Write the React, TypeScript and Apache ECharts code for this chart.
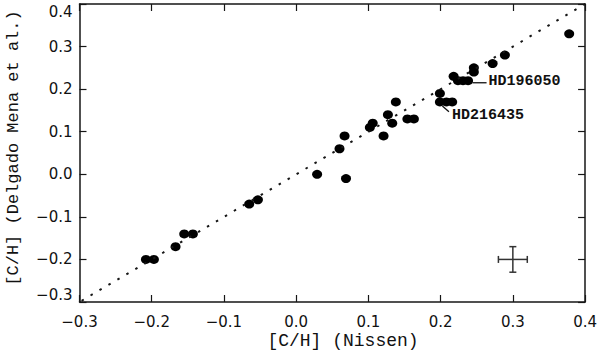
import React, { useEffect, useRef } from "react";
import * as echarts from "echarts";

// [C/H] (Nissen) and [C/H] (Delgado Mena et al.)
const nissenCH = [
  -0.208, -0.197, -0.167, -0.155, -0.143, -0.065, -0.053, 0.029, 0.069, 0.06,
  0.067, 0.102, 0.106, 0.121, 0.127, 0.133, 0.138, 0.154, 0.163, 0.199, 0.199,
  0.208, 0.216, 0.218, 0.224, 0.231, 0.238, 0.246, 0.246, 0.272, 0.289, 0.378,
];
const delgadoCH = [
  -0.2, -0.2, -0.17, -0.14, -0.14, -0.07, -0.06, 0.0, -0.01, 0.06, 0.09, 0.11,
  0.12, 0.09, 0.14, 0.12, 0.17, 0.13, 0.13, 0.19, 0.17, 0.17, 0.17, 0.23, 0.22,
  0.22, 0.22, 0.25, 0.24, 0.26, 0.28, 0.33,
];

// one-to-one line
const identityLine = [
  [-0.3, -0.3],
  [0.4, 0.4],
];

// representative error bar: [x, y, xErr, yErr]
const errorBar = [[0.3, -0.2, 0.02, 0.03]];

// star annotations
const annotNames = ["HD196050", "HD216435"];
const annotFromX = [0.244, 0.2024];
const annotFromY = [0.215, 0.1605];
const annotToX = [0.2636, 0.2115];
const annotToY = [0.215, 0.147];
const annotTextX = [0.2664, 0.2156];
const annotTextY = [0.217, 0.139];

const axisMin = -0.3;
const axisMax = 0.4;
const axisStep = 0.1;

const xTitle = "[C/H] (Nissen)";
const yTitle = "[C/H] (Delgado Mena et al.)";

const fmt = (v: number) => {
  if (Math.abs(v) < 1e-9) return "0.0";
  const s = v.toFixed(1);
  return s.replace("-", "\u2212");
};

const INK = "#161616";

export default function App() {
  const ref = useRef<HTMLDivElement>(null);
  useEffect(() => {
    if (!ref.current) return;
    const chart = echarts.init(ref.current, undefined, { renderer: "svg" });

    const axisCommon = {
      type: "value" as const,
      min: axisMin,
      max: axisMax,
      interval: axisStep,
      splitLine: { show: false },
      axisLine: { show: true, onZero: false, lineStyle: { color: INK, width: 1.5 } },
      axisTick: { show: true, inside: true, length: 7, lineStyle: { color: INK, width: 1.2 } },
    };
    const labelStyle = {
      fontFamily: "DejaVu Sans",
      fontSize: 15,
      color: "#111",
      formatter: (v: number) => fmt(v),
    };

    const annotData = annotNames.map((n, i) => [
      annotFromX[i],
      annotFromY[i],
      annotToX[i],
      annotToY[i],
      annotTextX[i],
      annotTextY[i],
      n,
    ]);

    chart.setOption({
      animation: false,
      backgroundColor: "#fff",
      grid: { left: 79.5, right: 13.5, top: 4, bottom: 52, containLabel: false },
      xAxis: [
        {
          ...axisCommon,
          position: "bottom",
          axisLabel: { ...labelStyle, margin: 12 },
        },
        {
          ...axisCommon,
          position: "top",
          axisLabel: { show: false },
        },
      ],
      yAxis: [
        {
          ...axisCommon,
          position: "left",
          axisLabel: {
            ...labelStyle,
            margin: 7,
            verticalAlignMaxLabel: "top",
            verticalAlignMinLabel: "bottom",
          },
        },
        {
          ...axisCommon,
          position: "right",
          axisLabel: { show: false },
        },
      ],
      series: [
        {
          type: "line",
          data: identityLine,
          symbol: "none",
          silent: true,
          clip: true,
          lineStyle: { color: INK, width: 2, type: [2.5, 7.9], dashOffset: 8 },
        },
        {
          type: "scatter",
          data: nissenCH.map((x, i) => [x, delgadoCH[i]]),
          symbol: "circle",
          symbolSize: [10, 9],
          itemStyle: { color: "#000", opacity: 1 },
        },
        {
          type: "custom",
          data: errorBar,
          renderItem: (params: any, api: any) => {
            const x = api.value(0);
            const y = api.value(1);
            const ex = api.value(2);
            const ey = api.value(3);
            const l = api.coord([x - ex, y]);
            const r = api.coord([x + ex, y]);
            const t = api.coord([x, y + ey]);
            const b = api.coord([x, y - ey]);
            const cap = 3.5;
            const st = { stroke: "#333", lineWidth: 1.5 };
            return {
              type: "group",
              children: [
                { type: "line", shape: { x1: l[0], y1: l[1], x2: r[0], y2: r[1] }, style: st },
                { type: "line", shape: { x1: t[0], y1: t[1], x2: b[0], y2: b[1] }, style: st },
                { type: "line", shape: { x1: l[0], y1: l[1] - cap, x2: l[0], y2: l[1] + cap }, style: st },
                { type: "line", shape: { x1: r[0], y1: r[1] - cap, x2: r[0], y2: r[1] + cap }, style: st },
                { type: "line", shape: { x1: t[0] - cap, y1: t[1], x2: t[0] + cap, y2: t[1] }, style: st },
                { type: "line", shape: { x1: b[0] - cap, y1: b[1], x2: b[0] + cap, y2: b[1] }, style: st },
              ],
            };
          },
        },
        {
          type: "custom",
          data: annotData,
          renderItem: (params: any, api: any) => {
            const a = api.coord([api.value(0), api.value(1)]);
            const b = api.coord([api.value(2), api.value(3)]);
            const t = api.coord([api.value(4), api.value(5)]);
            const name = annotNames[params.dataIndex];
            return {
              type: "group",
              children: [
                {
                  type: "line",
                  shape: { x1: a[0], y1: a[1], x2: b[0], y2: b[1] },
                  style: { stroke: "#111", lineWidth: 1.3 },
                },
                {
                  type: "text",
                  x: t[0],
                  y: t[1],
                  style: {
                    text: name,
                    fill: "#111",
                    font: "bold 15px 'Liberation Mono'",
                    align: "left",
                    verticalAlign: "middle",
                  },
                },
              ],
            };
          },
        },
      ],
      graphic: [
        {
          type: "text",
          x: 343,
          y: 341,
          style: {
            text: xTitle,
            fill: "#111",
            font: "18px 'Liberation Mono'",
            align: "center",
            verticalAlign: "middle",
          },
        },
        {
          type: "text",
          x: 13.5,
          y: 148,
          rotation: Math.PI / 2,
          style: {
            text: yTitle,
            fill: "#111",
            font: "17px 'Liberation Mono'",
            align: "center",
            verticalAlign: "middle",
          },
        },
      ],
    });
    return () => chart.dispose();
  }, []);
  return (
    <div
      ref={ref}
      style={{ position: "fixed", left: 0, top: 0, width: 600, height: 354 }}
    />
  );
}
